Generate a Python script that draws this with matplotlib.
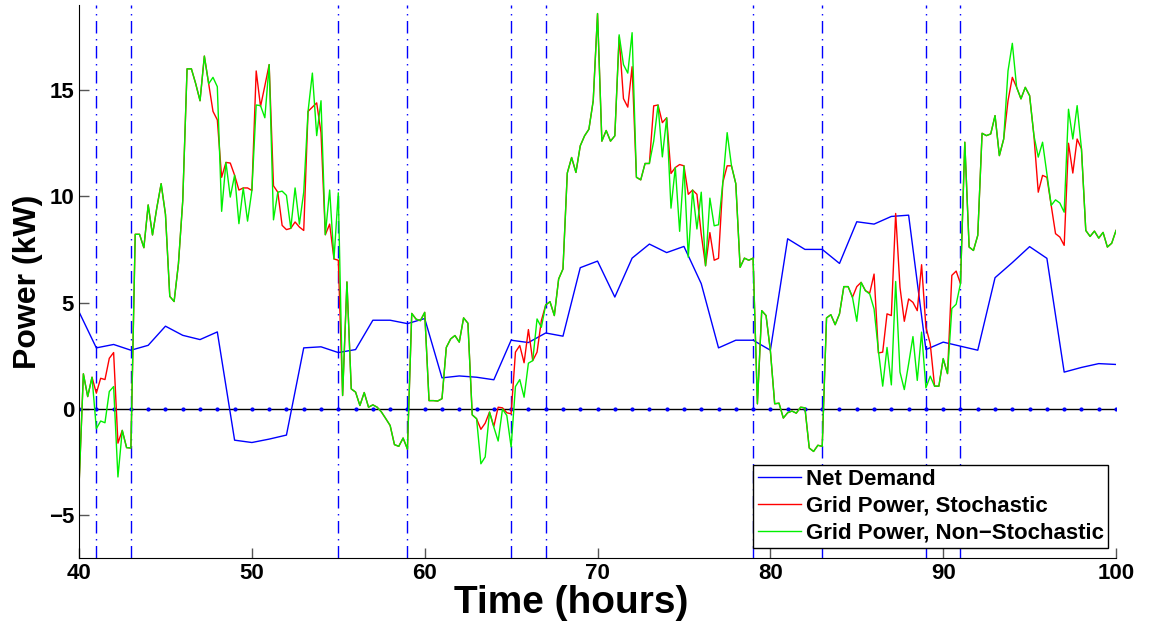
import numpy as np
import matplotlib.pyplot as plt

plt.rcParams['font.family'] = ['Liberation Sans', 'DejaVu Sans']

# -------------------------------------------------
# Data (hours 40..100)
# -------------------------------------------------

hours = np.arange(40, 101)

net_demand = [
    4.57, 2.88, 3.04, 2.77, 3.00, 3.90, 3.47, 3.27, 3.63, -1.46,
    -1.57, -1.41, -1.22, 2.88, 2.93, 2.66, 2.80, 4.18, 4.18, 4.02,
    4.26, 1.47, 1.56, 1.50, 1.38, 3.24, 3.13, 3.58, 3.43, 6.65,
    6.96, 5.27, 7.10, 7.76, 7.36, 7.65, 5.90, 2.88, 3.24, 3.24,
    2.77, 8.01, 7.51, 7.51, 6.85, 8.81, 8.70, 9.06, 9.12, 2.80,
    3.15, 2.96, 2.77, 6.18, 6.89, 7.64, 7.09, 1.74, 1.96, 2.14,
    2.10,
]

# grid power at 15 min resolution
t_grid = np.arange(40, 100.001, 0.25)

grid_stoch = [
    -3.58, 1.66, 0.59, 1.50, 0.75, 1.45, 1.39, 2.39, 2.66, -1.60,
    -1.00, -1.81, -1.83, 8.22, 8.22, 7.59, 9.60, 8.19, 9.47, 10.60,
    9.16, 5.30, 5.06, 6.83, 9.80, 16.00, 16.00, 15.30, 14.50, 16.60,
    15.30, 14.00, 13.60, 10.90, 11.60, 11.57, 11.00, 10.30, 10.40, 10.40,
    10.28, 15.90, 14.23, 15.20, 16.20, 10.50, 10.20, 8.64, 8.44, 8.50,
    8.80, 8.56, 8.40, 14.00, 14.20, 14.40, 13.00, 8.20, 8.70, 7.06,
    7.00, 0.64, 5.98, 0.95, 0.80, 0.17, 0.78, 0.09, 0.20, 0.09,
    -0.14, -0.45, -0.77, -1.67, -1.75, -1.36, -1.88, 4.50, 4.23, 4.16,
    4.55, 0.40, 0.40, 0.38, 0.49, 2.90, 3.30, 3.46, 3.15, 4.29,
    4.04, -0.27, -0.45, -0.95, -0.66, -0.14, -0.81, 0.09, 0.06, -0.17,
    -0.22, 2.68, 2.99, 2.18, 3.74, 2.28, 2.68, 4.16, 4.90, 5.05,
    4.40, 6.12, 6.59, 11.10, 11.83, 11.13, 12.38, 12.85, 13.16, 14.50,
    18.60, 12.60, 13.10, 12.60, 12.85, 17.50, 14.60, 14.20, 16.10, 10.90,
    10.78, 11.55, 11.55, 14.26, 14.30, 13.47, 13.70, 11.08, 11.36, 11.50,
    11.44, 10.10, 10.30, 10.10, 8.23, 6.74, 8.30, 7.00, 7.09, 10.66,
    11.44, 11.44, 10.60, 6.67, 7.10, 7.00, 7.10, 0.25, 4.63, 4.40,
    2.75, 0.25, 0.28, -0.42, -0.17, -0.09, -0.19, 0.09, 0.06, -1.83,
    -1.99, -1.70, -1.75, 4.29, 4.44, 3.97, 4.48, 5.76, 5.76, 5.26,
    5.76, 5.96, 5.57, 5.46, 6.35, 2.64, 2.68, 4.48, 4.40, 9.20,
    5.73, 4.13, 5.18, 5.02, 4.63, 6.79, 3.85, 3.07, 1.08, 1.08,
    2.36, 1.67, 6.29, 6.49, 5.90, 12.55, 7.62, 7.46, 8.17, 12.97,
    12.86, 12.94, 13.80, 11.92, 12.70, 14.50, 15.60, 15.13, 14.59, 15.13,
    14.74, 12.86, 10.20, 10.99, 10.90, 9.58, 8.25, 8.09, 7.70, 12.50,
    11.10, 12.70, 12.24, 8.40, 8.12, 8.37, 8.04, 8.31, 7.62, 7.80,
    8.40,
]

grid_nonstoch = [
    -3.58, 1.66, 0.59, 1.50, -0.92, -0.56, -0.64, 0.83, 1.06, -3.19,
    -1.00, -1.81, -1.83, 8.22, 8.22, 7.59, 9.60, 8.19, 9.47, 10.60,
    9.16, 5.30, 5.06, 6.83, 9.80, 16.00, 16.00, 15.30, 14.50, 16.60,
    15.30, 15.60, 15.16, 9.30, 11.60, 9.97, 11.00, 8.72, 10.40, 8.84,
    10.28, 14.30, 14.27, 13.70, 16.20, 8.90, 10.20, 10.25, 10.05, 8.50,
    10.40, 8.70, 10.20, 14.00, 15.80, 12.86, 14.50, 8.20, 10.30, 7.06,
    10.17, 0.64, 5.98, 0.95, 0.80, 0.17, 0.78, 0.09, 0.20, 0.09,
    -0.14, -0.45, -0.77, -1.67, -1.75, -1.36, -1.88, 4.50, 4.23, 4.16,
    4.55, 0.40, 0.40, 0.38, 0.49, 2.90, 3.30, 3.46, 3.15, 4.29,
    4.04, -0.27, -0.45, -2.57, -2.25, -0.14, -0.85, -1.50, 0.00, -0.30,
    -1.78, 1.06, 1.39, 0.56, 2.16, 2.28, 4.24, 3.85, 4.90, 5.05,
    4.40, 6.12, 6.59, 11.10, 11.83, 11.13, 12.38, 12.85, 13.16, 14.50,
    18.60, 12.60, 13.10, 12.60, 12.85, 17.60, 16.20, 15.80, 17.70, 10.90,
    10.78, 11.55, 11.55, 12.60, 14.30, 11.86, 13.70, 9.45, 11.36, 8.36,
    11.44, 7.14, 10.30, 8.47, 10.20, 6.74, 9.92, 8.62, 8.67, 10.66,
    13.00, 11.44, 10.60, 6.67, 7.10, 7.00, 7.10, 0.25, 4.63, 4.40,
    2.75, 0.25, 0.28, -0.42, -0.17, -0.09, -0.19, 0.09, 0.06, -1.83,
    -1.99, -1.70, -1.75, 4.29, 4.44, 3.97, 4.48, 5.76, 5.76, 5.26,
    4.13, 5.96, 5.57, 5.41, 4.71, 2.75, 1.08, 2.90, 1.14, 6.00,
    1.74, 0.92, 2.13, 3.41, 1.35, 3.62, 1.00, 1.55, 1.08, 1.08,
    2.38, 1.67, 4.73, 4.93, 5.90, 12.55, 7.62, 7.46, 8.17, 12.97,
    12.86, 12.94, 13.80, 11.92, 12.70, 15.90, 17.20, 15.13, 14.59, 15.13,
    14.74, 12.86, 11.85, 12.55, 11.06, 9.58, 9.84, 9.69, 9.26, 14.10,
    12.70, 14.27, 12.24, 8.40, 8.12, 8.37, 8.04, 8.31, 7.62, 7.80,
    8.40,
]

# decision boundaries (hours)
v_lines = [41, 43, 55, 59, 65, 67, 79, 83, 89, 91]

# -------------------------------------------------
# Plot
# -------------------------------------------------

fig = plt.figure(figsize=(11.49, 6.22), dpi=100)
ax = fig.add_axes([0.0688, 0.1029, 0.9025, 0.889])

for h in v_lines:
    ax.axvline(h, color='b', linestyle=(0, (9, 4, 1, 4)), linewidth=1.0)

ax.axhline(0, color='k', linewidth=1.0)
ax.plot(hours, np.zeros(len(hours)), 'b.', markersize=4)

ax.plot(hours, net_demand, color='b', linewidth=1.0, label='Net Demand')
ax.plot(t_grid, grid_stoch, color='r', linewidth=1.0,
        label='Grid Power, Stochastic')
ax.plot(t_grid, grid_nonstoch, color='#00f000', linewidth=1.0,
        label='Grid Power, Non\u2212Stochastic')

ax.set_xlim(40, 100)
ax.set_ylim(-7, 19)
ax.set_xticks(np.arange(40, 101, 10))
ax.set_yticks([-5, 0, 5, 10, 15])
ax.set_yticklabels(['\u22125', '0', '5', '10', '15'])

ax.spines['top'].set_visible(False)
ax.spines['right'].set_visible(False)
ax.tick_params(direction='in', length=7, width=1, color='#555555',
               labelsize=16)
for lbl in ax.get_xticklabels() + ax.get_yticklabels():
    lbl.set_fontweight('bold')

ax.set_xlabel('Time (hours)', fontsize=28, fontweight='bold')
ax.xaxis.label.set_va('center')
ax.xaxis.set_label_coords(0.4745, -0.082)
ax.set_ylabel('Power (kW)', fontsize=23, fontweight='bold', labelpad=4)

leg = ax.legend(loc='lower right', bbox_to_anchor=(0.9923, 0.018),
                prop={'weight': 'bold', 'size': 16}, fancybox=False,
                framealpha=1, edgecolor='k', handlelength=1.94,
                borderpad=0.2, labelspacing=0.26, handletextpad=0.22,
                borderaxespad=0)
leg.get_frame().set_linewidth(1.0)

fig.savefig('out.png', dpi=100)
